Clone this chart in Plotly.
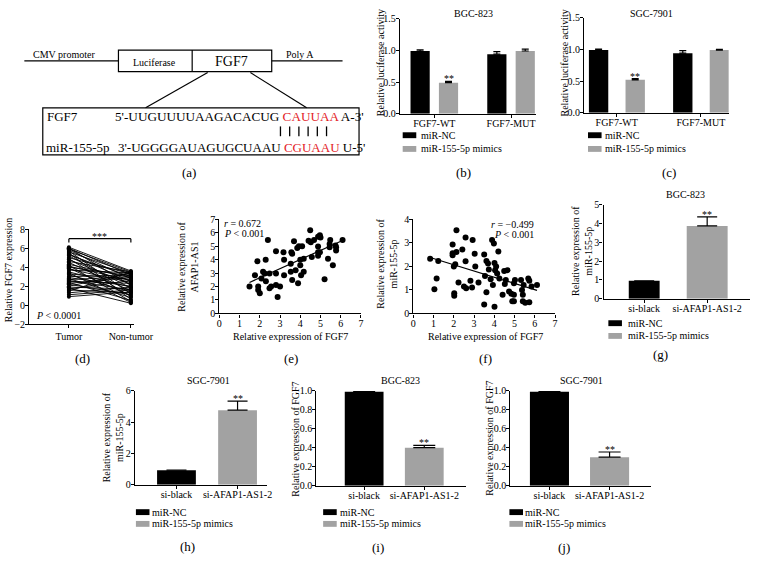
import plotly.graph_objects as go
import numpy as np

W, H = 770, 571
FONT = "Liberation Serif"
BLACK = "#000000"
GREY = "#a2a2a2"
RED = "#e3211f"

# ---------------- data ----------------
luc_groups = ["FGF7-WT", "FGF7-MUT"]
luc_b_nc = [0.99, 0.94]
luc_b_nc_err = [0.02, 0.04]
luc_b_mim = [0.49, 0.99]
luc_b_mim_err = [0.02, 0.03]
luc_c_nc = [0.99, 0.94]
luc_c_nc_err = [0.015, 0.04]
luc_c_mim = [0.52, 0.99]
luc_c_mim_err = [0.02, 0.01]

paired_groups = ["Tumor", "Non-tumor"]
tumor = [6.1, 6.0, 6.0, 5.9, 5.8, 5.7, 5.6, 5.5, 5.4, 5.3, 5.2, 5.0, 4.9, 4.8, 4.6,
         4.5, 4.3, 4.2, 4.1, 4.0, 3.9, 3.8, 3.7, 3.5, 3.4, 3.3, 3.2, 3.0, 2.9, 2.8,
         2.7, 2.6, 2.5, 2.4, 2.3, 2.2, 2.0, 1.9, 1.8, 1.7, 1.6, 1.5, 1.3, 1.1, 0.9]
nontumor = [3.6, 3.2, 2.1, 3.5, 2.8, 1.2, 3.4, 0.6, 2.5, 3.0, 1.8, 3.3, 0.9, 2.2, 3.5,
            1.5, 2.9, 0.4, 2.6, 3.1, 1.0, 2.4, 3.4, 1.9, 0.3, 2.7, 1.4, 3.2, 2.0, 0.8,
            3.0, 1.6, 2.3, 0.5, 2.9, 1.1, 3.4, 1.7, 0.2, 2.6, 1.3, 3.5, 1.9, 1.6, 1.4]

e_fgf7 = [1.49, 1.88, 1.76, 1.92, 1.92, 2.0, 2.08, 2.16, 2.24, 2.3, 2.29, 2.4, 2.48, 2.56,
          2.48, 2.8, 2.8, 2.8, 2.88, 3.0, 3.17, 3.2, 3.2, 3.53, 3.53, 3.56, 3.6, 3.6, 3.69,
          3.77, 3.89, 3.85, 3.93, 4.0, 4.0, 4.04, 4.09, 4.17, 4.17, 4.41, 4.49, 4.52, 4.57,
          4.68, 4.88, 4.88, 4.88, 4.88, 4.97, 5.0, 4.97, 5.2, 5.37, 5.45, 5.48, 5.45, 5.61,
          5.74, 5.77, 5.77, 6.09]
e_afap = [2.0, 3.88, 2.85, 2.0, 1.75, 1.5, 2.6, 3.1, 2.98, 2.4, 4.0, 5.46, 2.98, 2.0,
          1.88, 2.98, 2.12, 4.63, 1.22, 2.0, 4.56, 4.0, 2.85, 3.1, 3.7, 4.56, 4.44, 2.49,
          5.37, 3.22, 2.24, 4.88, 5.0, 4.0, 3.59, 2.85, 5.0, 4.07, 3.1, 5.41, 6.2, 5.3, 4.2,
          5.46, 5.7, 4.98, 4.56, 4.3, 5.83, 5.66, 4.56, 2.54, 4.07, 4.93, 5.46, 5.17, 3.59,
          5.05, 4.93, 4.68, 5.46]

f_fgf7 = [0.83, 1.04, 1.15, 1.23, 1.94, 1.94, 1.94, 2.02, 2.02, 2.07, 2.0, 2.13, 2.13, 2.23,
          2.42, 2.5, 2.58, 2.58, 2.61, 2.82, 2.9, 2.93, 3.03, 3.06, 3.22, 3.5, 3.5, 3.54,
          3.61, 3.61, 3.69, 3.73, 3.82, 3.89, 3.98, 3.93, 4.01, 4.01, 4.04, 4.09, 4.14, 4.2,
          4.25, 4.41, 4.49, 4.57, 4.52, 4.65, 4.73, 4.84, 4.89, 4.97, 4.97, 5.02, 4.97, 5.32,
          5.37, 5.41, 5.41, 5.45, 5.53, 5.73, 5.68, 5.73, 5.84, 6.11]
f_mir = [2.33, 1.03, 1.49, 2.23, 2.56, 2.93, 2.47, 0.86, 0.75, 2.09, 2.0, 3.54, 2.61, 1.31,
         2.72, 1.14, 3.23, 2.22, 1.07, 1.39, 1.1, 3.12, 2.54, 2.0, 1.31, 2.51, 0.38, 1.59,
         0.9, 2.23, 2.12, 1.87, 1.45, 3.12, 2.98, 1.21, 0.28, 2.15, 1.84, 2.0, 1.7, 2.63,
         1.49, 0.79, 1.81, 1.42, 1.25, 1.84, 0.93, 0.84, 0.52, 0.52, 1.28, 1.42, 0.79, 1.42,
         1.0, 0.79, 0.52, 1.21, 0.45, 0.47, 1.49, 1.39, 1.14, 1.21]

si_groups = ["si-black", "si-AFAP1-AS1-2"]
g_vals = [0.95, 3.87]
g_err = [0.0, 0.48]
h_vals = [0.93, 4.76]
h_err = [0.0, 0.58]
i_vals = [0.99, 0.40]
i_err = [0.0, 0.025]
j_vals = [0.99, 0.30]
j_err = [0.0, 0.055]

legend_labels = ["miR-NC", "miR-155-5p mimics"]

# ---------------- helpers ----------------
fig = go.Figure()
annotations = []
shapes = []
layout = {}


def txt(s, x, y, size=10, xanchor="center", yanchor="middle", color="black", angle=0):
    annotations.append(dict(text=s, x=x / W, y=1 - y / H, xref="paper", yref="paper",
                            showarrow=False, xanchor=xanchor, yanchor=yanchor,
                            textangle=angle, borderpad=0,
                            font=dict(family=FONT, size=size, color=color)))


def line(x0, y0, x1, y1, w=1.2, color="black"):
    shapes.append(dict(type="line", xref="paper", yref="paper", x0=x0 / W, y0=1 - y0 / H,
                       x1=x1 / W, y1=1 - y1 / H, line=dict(color=color, width=w)))


def rect(x0, y0, x1, y1, fill="rgba(0,0,0,0)", w=1.2, lc="black"):
    shapes.append(dict(type="rect", xref="paper", yref="paper", x0=x0 / W, y0=1 - y0 / H,
                       x1=x1 / W, y1=1 - y1 / H, fillcolor=fill,
                       line=dict(color=lc, width=w)))


AX = dict(showline=True, linecolor="black", linewidth=1.3, ticks="outside", ticklen=3,
          tickwidth=1.2, tickcolor="black", showgrid=False, zeroline=False,
          tickfont=dict(family=FONT, size=10, color="black"))


def axes(n, x0, x1, ytop, ybot, xr, yr, xkw=None, ykw=None):
    s = "" if n == 1 else str(n)
    xa = dict(AX, domain=[x0 / W, x1 / W], range=xr, anchor="y" + s, ticklabelstandoff=-3)
    ya = dict(AX, domain=[1 - ybot / H, 1 - ytop / H], range=yr, anchor="x" + s,
              ticklabelstandoff=-2)
    xa.update(xkw or {})
    ya.update(ykw or {})
    layout["xaxis" + s] = xa
    layout["yaxis" + s] = ya
    return "x" + s, "y" + s


def legend(x0, xt, y1, y2, rw=14):
    rect(x0, y1 - 3, x0 + rw, y1 + 3, fill=BLACK, w=0)
    rect(x0, y2 - 3, x0 + rw, y2 + 3, fill=GREY, w=0)
    txt(legend_labels[0], xt, y1, 10, xanchor="left")
    txt(legend_labels[1], xt, y2, 10, xanchor="left")


def bar(xa, ya, xpos, vals, errs, color, width, offset, capw):
    fig.add_trace(go.Bar(x=xpos, y=vals, width=width, offset=offset, xaxis=xa, yaxis=ya,
                         marker=dict(color=color, line=dict(width=0)),
                         error_y=dict(type="data", array=errs, arrayminus=[0] * len(errs),
                                      symmetric=False, color="black", thickness=1.2,
                                      width=capw),
                         showlegend=False, hoverinfo="skip"))


def stars(xa, ya, x, y, s="**"):
    annotations.append(dict(text=s, x=x, y=y, xref=xa, yref=ya, showarrow=False,
                            yanchor="bottom", yshift=-5,
                            font=dict(family=FONT, size=10, color="black")))


# ---------------- panel (a) ----------------
line(22, 56, 119, 56)
rect(119, 45, 277, 67)
line(195, 45, 195, 67)
line(277, 56, 350, 56)
txt("CMV promoter", 63, 50, 10)
txt("Luciferase", 156, 58, 10)
txt("FGF7", 236, 57, 14)
txt("Poly A", 306, 50, 10)
line(211, 68, 147, 104)
line(255, 68, 313, 104)
rect(41, 104, 367, 152)
txt("FGF7", 44, 113, 13, xanchor="left")
txt("5'-UUGUUUUAAGACACUG <span style='color:%s'>CAUUAA</span> A-3'" % RED,
    114, 113, 13.2, xanchor="left")
for bx in [286, 295.5, 305, 314.5, 324, 333.5]:
    line(bx, 123, bx, 133, w=1.3)
txt("miR-155-5p", 43, 145, 13, xanchor="left")
txt("3'-UGGGGAUAGUGCUAAU <span style='color:%s'>CGUAAU</span> U-5'" % RED,
    117, 145, 13, xanchor="left")
txt("(a)", 192, 170, 13)

# ---------------- panel (b) ----------------
xb, yb = axes(1, 409, 549, 13, 110, [-0.45, 1.32], [0, 1.5],
              dict(tickvals=[0, 1], ticktext=luc_groups),
              dict(tickvals=[0, 0.5, 1.0, 1.5], tickformat=".1f"))
bar(xb, yb, [0, 1], luc_b_nc, luc_b_nc_err, BLACK, 0.25, -0.31, 3.5)
bar(xb, yb, [0, 1], luc_b_mim, luc_b_mim_err, GREY, 0.25, 0.06, 3.5)
stars(xb, yb, 0.185, luc_b_mim[0] + luc_b_mim_err[0])
txt("BGC-823", 485, 8, 10)
txt("Relative luciferase activity", 389, 58, 10, angle=-90)
legend(412, 430, 132, 146)
txt("(b)", 475, 170, 13)

# ---------------- panel (c) ----------------
xc, yc = axes(2, 599, 748, 12, 109, [-0.387, 1.33], [0, 1.5],
              dict(tickvals=[0, 1], ticktext=luc_groups),
              dict(tickvals=[0, 0.5, 1.0, 1.5], tickformat=".1f"))
bar(xc, yc, [0, 1], luc_c_nc, luc_c_nc_err, BLACK, 0.23, -0.33, 3.5)
bar(xc, yc, [0, 1], luc_c_mim, luc_c_mim_err, GREY, 0.23, 0.105, 3.5)
stars(xc, yc, 0.22, luc_c_mim[0] + luc_c_mim_err[0])
txt("SGC-7901", 668, 8, 10)
txt("Relative luciferase activity", 579, 58, 10, angle=-90)
legend(603, 619, 132, 146)
txt("(c)", 687, 170, 13)

# ---------------- panel (d) ----------------
xd, yd = axes(3, 27, 135, 228, 325, [-0.64, 1.05], [-2, 8],
              dict(tickvals=[0, 1], ticktext=paired_groups, ticklabelstandoff=0),
              dict(dtick=2, tick0=0))
px_, py_ = [], []
for t, n in zip(tumor, nontumor):
    px_ += [0, 1, None]
    py_ += [t, n, None]
fig.add_trace(go.Scatter(x=px_, y=py_, mode="lines+markers", xaxis=xd, yaxis=yd,
                         line=dict(color="black", width=0.9),
                         marker=dict(color="black", size=4), showlegend=False,
                         hoverinfo="skip", cliponaxis=False))
shapes.append(dict(type="line", xref=xd, yref=yd, x0=0, x1=1, y0=7, y1=7,
                   line=dict(color="black", width=1.2)))
shapes.append(dict(type="line", xref=xd, yref=yd, x0=0, x1=0, y0=7, y1=6.6,
                   line=dict(color="black", width=1.2)))
shapes.append(dict(type="line", xref=xd, yref=yd, x0=1, x1=1, y0=7, y1=6.6,
                   line=dict(color="black", width=1.2)))
stars(xd, yd, 0.5, 7, "***")
txt("<i>P</i> &lt; 0.0001", 33, 316, 10, xanchor="left")
txt("Relative FGF7 expression", 5, 270, 10, angle=-90)
txt("(d)", 82, 360, 13)

# ---------------- panel (e) ----------------
xe, ye = axes(4, 223, 369, 218, 314, [0, 7], [0, 7],
              dict(dtick=1, tick0=0), dict(dtick=1, tick0=0))
fig.add_trace(go.Scatter(x=e_fgf7, y=e_afap, mode="markers", xaxis=xe, yaxis=ye,
                         marker=dict(color="black", size=6), showlegend=False,
                         hoverinfo="skip", cliponaxis=False))
ce = np.polyfit(e_fgf7, e_afap, 1)
ex = [min(e_fgf7), max(e_fgf7)]
fig.add_trace(go.Scatter(x=ex, y=[ce[0] * v + ce[1] for v in ex], mode="lines",
                         xaxis=xe, yaxis=ye, line=dict(color="black", width=1.2),
                         showlegend=False, hoverinfo="skip"))
txt("<i>r</i> = 0.672", 227, 222, 10, xanchor="left")
txt("<i>P</i> &lt; 0.001", 227, 232, 10, xanchor="left")
txt("Relative expression of FGF7", 296, 338, 10)
txt("Relative expression of<br>AFAP1-AS1", 191, 266, 10, angle=-90)
txt("(e)", 297, 360, 13)

# ---------------- panel (f) ----------------
xf, yf = axes(5, 423, 569, 218, 314, [0, 7], [0, 4],
              dict(dtick=1, tick0=0), dict(dtick=1, tick0=0))
fig.add_trace(go.Scatter(x=f_fgf7, y=f_mir, mode="markers", xaxis=xf, yaxis=yf,
                         marker=dict(color="black", size=6), showlegend=False,
                         hoverinfo="skip", cliponaxis=False))
cf = np.polyfit(f_fgf7, f_mir, 1)
fx = [min(f_fgf7), max(f_fgf7)]
fig.add_trace(go.Scatter(x=fx, y=[cf[0] * v + cf[1] for v in fx], mode="lines",
                         xaxis=xf, yaxis=yf, line=dict(color="black", width=1.2),
                         showlegend=False, hoverinfo="skip"))
txt("<i>r</i> = \u22120.499", 548, 223, 10, xanchor="right")
txt("<i>P</i> &lt; 0.001", 548, 233, 10, xanchor="right")
txt("Relative expression of FGF7", 497, 338, 10)
txt("Relative expression of<br>miR-155-5p", 396, 263, 10, angle=-90)
txt("(f)", 497, 360, 13)

# ---------------- panel (g) ----------------
xg, yg = axes(6, 619, 770, 203, 299, [-0.646, 1.68], [0, 5],
              dict(tickvals=[0, 1], ticktext=si_groups), dict(dtick=1, tick0=0))
bar(xg, yg, [0], g_vals[:1], g_err[:1], BLACK, 0.49, -0.245, 10)
bar(xg, yg, [1], g_vals[1:], g_err[1:], GREY, 0.65, -0.325, 10)
stars(xg, yg, 1, g_vals[1] + g_err[1])
txt("BGC-823", 703, 193, 10)
txt("Relative expression of<br>miR-155-5p", 597, 250, 10, angle=-90)
legend(624, 643, 324, 337)
txt("(g)", 678, 356, 13)

# ---------------- panel (h) ----------------
xh, yh = axes(7, 136, 272, 393, 489, [-0.68, 1.48], [0, 6],
              dict(tickvals=[0, 1], ticktext=si_groups), dict(dtick=2, tick0=0))
bar(xh, yh, [0], h_vals[:1], h_err[:1], BLACK, 0.635, -0.3175, 10)
bar(xh, yh, [1], h_vals[1:], h_err[1:], GREY, 0.635, -0.3175, 10)
stars(xh, yh, 1, h_vals[1] + h_err[1])
txt("SGC-7901", 212, 383, 10)
txt("Relative expression of<br>miR-155-5p", 113, 441, 10, angle=-90)
legend(137, 153, 517, 529)
txt("(h)", 190, 552, 13)

# ---------------- panel (i) ----------------
xi, yi = axes(8, 323, 477, 393, 490, [-0.795, 1.69], [0, 1],
              dict(tickvals=[0, 1], ticktext=si_groups),
              dict(dtick=0.2, tick0=0, tickformat=".1f"))
bar(xi, yi, [0], i_vals[:1], i_err[:1], BLACK, 0.645, -0.3225, 11)
bar(xi, yi, [1], i_vals[1:], i_err[1:], GREY, 0.645, -0.3225, 11)
stars(xi, yi, 1, i_vals[1] + i_err[1])
txt("BGC-823", 410, 383, 10)
txt("Relative expression of FGF7", 302, 442, 10, angle=-90)
legend(330, 346, 517, 529)
txt("(i)", 387, 553, 13)

# ---------------- panel (j) ----------------
xj, yj = axes(9, 523, 668, 393, 490, [-0.65, 1.69], [0, 1],
              dict(tickvals=[0, 1], ticktext=si_groups),
              dict(dtick=0.2, tick0=0, tickformat=".1f"))
bar(xj, yj, [0], j_vals[:1], j_err[:1], BLACK, 0.65, -0.325, 11)
bar(xj, yj, [1], j_vals[1:], j_err[1:], GREY, 0.65, -0.325, 11)
stars(xj, yj, 1, j_vals[1] + j_err[1])
txt("SGC-7901", 596, 383, 10)
txt("Relative expression of FGF7", 502, 442, 10, angle=-90)
legend(522, 537, 517, 529)
txt("(j)", 578, 553, 13)

fig.update_layout(width=W, height=H, margin=dict(l=0, r=0, t=0, b=0),
                  paper_bgcolor="white", plot_bgcolor="white", showlegend=False,
                  barmode="overlay", font=dict(family=FONT, size=10, color="black"),
                  annotations=annotations, shapes=shapes, **layout)
fig.write_html("out.html", config={"displayModeBar": False},
               post_script="document.body.style.margin='0';")
